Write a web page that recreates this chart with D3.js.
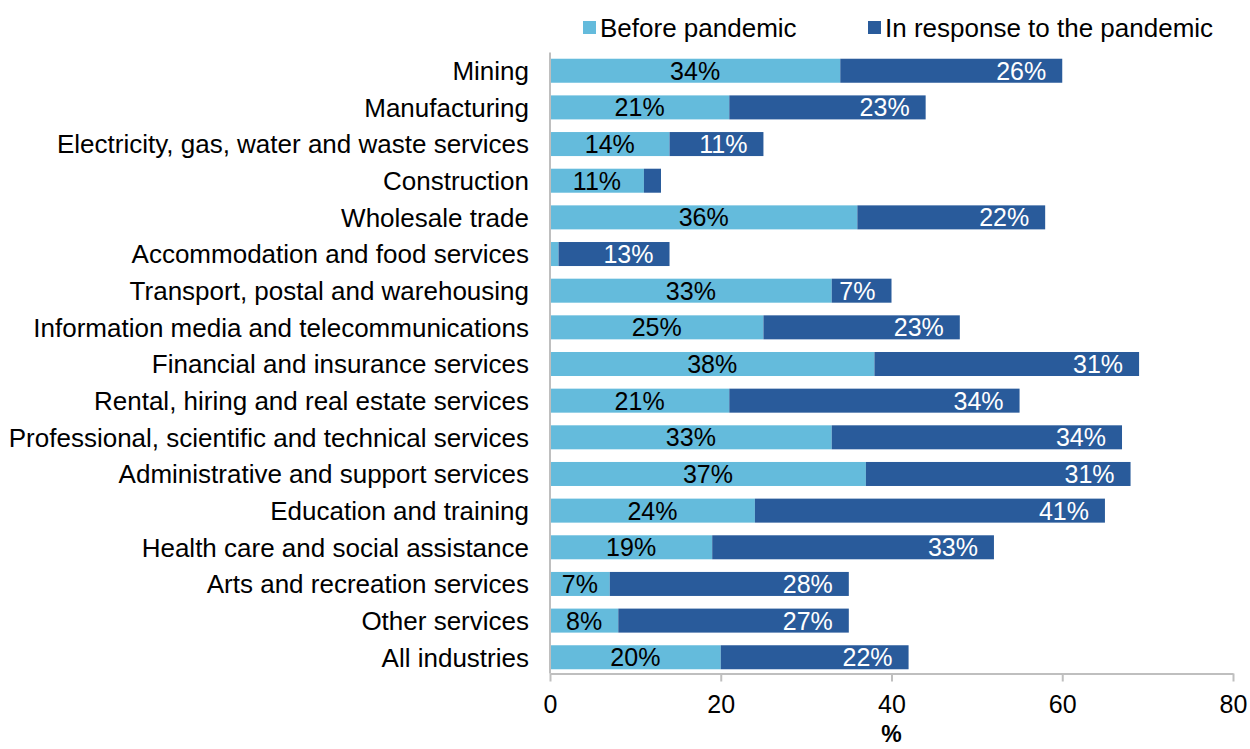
<!DOCTYPE html>
<html>
<head>
<meta charset="utf-8">
<script src="https://cdn.jsdelivr.net/npm/d3@7"></script>
<style>
  html, body { margin: 0; padding: 0; background: #fff; }
  svg { display: block; font-family: "Liberation Sans", Arial, sans-serif; }
</style>
</head>
<body>
<svg id="chart" width="1250" height="749"></svg>
<script>
// Industries, top to bottom
const industries = [
  "Mining",
  "Manufacturing",
  "Electricity, gas, water and waste services",
  "Construction",
  "Wholesale trade",
  "Accommodation and food services",
  "Transport, postal and warehousing",
  "Information media and telecommunications",
  "Financial and insurance services",
  "Rental, hiring and real estate services",
  "Professional, scientific and technical services",
  "Administrative and support services",
  "Education and training",
  "Health care and social assistance",
  "Arts and recreation services",
  "Other services",
  "All industries"
];

// Share of businesses (%)
const beforePandemic = [34, 21, 14, 11, 36, 1, 33, 25, 38, 21, 33, 37, 24, 19, 7, 8, 20];
const inResponse     = [26, 23, 11, 2, 22, 13, 7, 23, 31, 34, 34, 31, 41, 33, 28, 27, 22];

const seriesNames = ["Before pandemic", "In response to the pandemic"];
const xTicks = [0, 20, 40, 60, 80];

const colors = ["#64BBDC", "#295B9B"];
const fontSize = 26;

const svg = d3.select("#chart");

const x = d3.scaleLinear().domain([0, 80]).range([550, 1233]);
const y = d3.scaleBand().domain(industries).range([52.5, 675.5]).paddingInner(0.345).paddingOuter(0.17);

const rows = industries.map((name, i) => ({
  name,
  segs: [
    { s: 0, x0: 0, x1: beforePandemic[i], v: beforePandemic[i] },
    { s: 1, x0: beforePandemic[i], x1: beforePandemic[i] + inResponse[i], v: inResponse[i] }
  ]
}));

// Bars
const rowG = svg.append("g").selectAll("g").data(rows).join("g")
  .attr("transform", d => `translate(0,${y(d.name)})`);

rowG.selectAll("rect").data(d => d.segs).join("rect")
  .attr("x", d => x(d.x0))
  .attr("width", d => x(d.x1) - x(d.x0))
  .attr("y", 0)
  .attr("height", y.bandwidth())
  .attr("fill", d => colors[d.s]);

// Value labels: centred in the first segment, inside end of the second
rowG.selectAll("text").data(d => d.segs.filter(s => s.v >= 3)).join("text")
  .attr("x", d => d.s === 0 ? (x(d.x0) + x(d.x1)) / 2 : x(d.x1) - 16)
  .attr("y", y.bandwidth() / 2)
  .attr("dy", "0.36em")
  .attr("text-anchor", d => d.s === 0 ? "middle" : "end")
  .attr("font-size", fontSize - 1)
  .attr("fill", d => d.s === 0 ? "#000" : "#fff")
  .text(d => d.v + "%");

// Category axis
const yAxis = svg.append("g").attr("transform", `translate(${x(0)},0)`)
  .call(d3.axisLeft(y).tickSize(0).tickPadding(21));
yAxis.select(".domain").attr("stroke", "#BFBFBF").attr("stroke-width", 2)
  .attr("d", `M0,${y.range()[0]}V673.5`);
yAxis.selectAll("text").attr("font-size", fontSize).attr("fill", "#000")
  .attr("dy", "0.36em")
  .attr("font-family", "Liberation Sans, Arial, sans-serif");

// Value axis
const xAxis = svg.append("g").attr("transform", "translate(0,673.5)")
  .call(d3.axisBottom(x).tickValues(xTicks).tickSize(8).tickPadding(14).tickSizeOuter(0));
xAxis.select(".domain").attr("stroke", "#BFBFBF").attr("stroke-width", 2);
xAxis.selectAll(".tick line").attr("stroke", "#BFBFBF").attr("stroke-width", 2);
xAxis.selectAll("text").attr("font-size", fontSize - 1).attr("fill", "#000")
  .attr("font-family", "Liberation Sans, Arial, sans-serif");

// Axis title
svg.append("text")
  .attr("x", (x(0) + x(80)) / 2)
  .attr("y", 742)
  .attr("text-anchor", "middle")
  .attr("font-size", fontSize - 3)
  .attr("font-weight", "bold")
  .text("%");

// Legend
const legendX = [583, 868];
const legend = svg.append("g").selectAll("g").data(seriesNames).join("g")
  .attr("transform", (d, i) => `translate(${legendX[i]},0)`);
legend.append("rect").attr("x", 0).attr("y", 21).attr("width", 13).attr("height", 13)
  .attr("fill", (d, i) => colors[i]);
legend.append("text").attr("x", 17).attr("y", 37).attr("font-size", fontSize)
  .attr("fill", "#000").text(d => d);
</script>
</body>
</html>
